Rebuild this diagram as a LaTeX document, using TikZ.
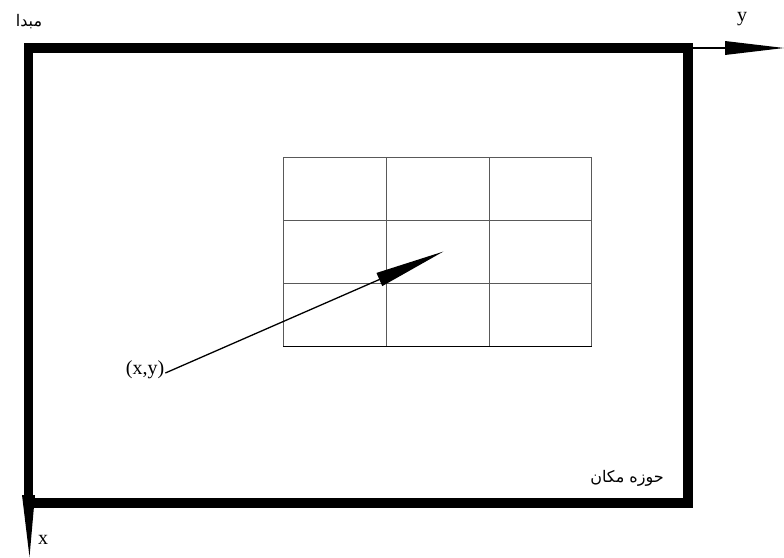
\documentclass[tikz,border=0pt]{standalone}
\usepackage{fontspec}
\setmainfont{Liberation Serif}
\newfontfamily\arabicfont[Script=Arabic]{DejaVu Sans}
\TeXXeTstate=1
\usetikzlibrary{arrows.meta}
\begin{document}
\begin{tikzpicture}[x=1pt,y=-1pt,
  frame/.style={line width=9.5pt, line join=miter},
  axis/.style={line width=1.4pt},
  gridln/.style={line width=0.8pt, draw=black!65},
  ptr/.style={line width=1.3pt, -{Triangle[length=70pt,width=14pt]}},
  lat/.style={font=\fontsize{20}{24}\selectfont, inner sep=1pt},
  per/.style={font=\arabicfont\fontsize{16}{19}\selectfont, inner sep=1pt}]
\useasboundingbox (0,0) rectangle (784,557);
% frame corners
\coordinate (tl) at (28.5,48);
\coordinate (tr) at (688,48);
\coordinate (br) at (688,503);
\coordinate (bl) at (28.5,503);
\coordinate (yb) at (725,48);
\coordinate (yend) at (784,48);
\coordinate (xb) at (28.5,495);
\coordinate (xend) at (29.5,557);
% axes
\draw[axis] (tr) -- (yb);
\fill (725,41) -- (yend) -- (725,55) -- cycle;
\fill (22,495) -- (xend) -- (35,495) -- cycle;
\draw[frame] (tl) rectangle (br);
% grid
\foreach \x in {283,386,489,591.5} \draw[gridln] (\x,157) -- (\x,346);
\foreach \y in {157,220,283} \draw[gridln] (283,\y) -- (591.5,\y);
\draw[line width=1pt] (283,346) -- (591.5,346);
% labels
\node[lat] (ylab) at (742,19) {y};
\node[lat] (xlab) at (43,540) {x};
\node[per] (origin) at (29,22) {\beginR مبدا\endR};
\node[per] (domain) at (627,478) {\beginR حوزه مکان\endR};
\node[lat] (xy) at (145,370) {(x,y)};
\coordinate (tip) at (443.5,251.5);
\draw[ptr] ([yshift=-3pt]xy.east) -- (tip);
\end{tikzpicture}
\end{document}
